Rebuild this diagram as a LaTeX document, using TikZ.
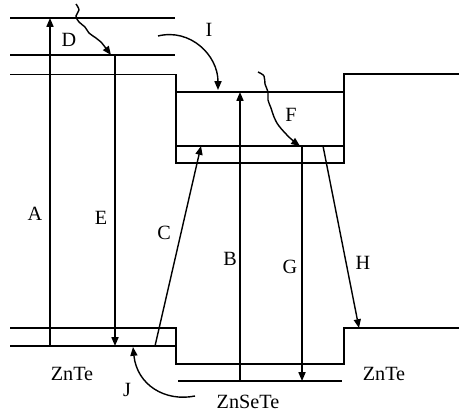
\documentclass[tikz,border=0pt]{standalone}
\usepackage{fontspec}
\setmainfont{Liberation Serif}
\usetikzlibrary{arrows.meta}
\definecolor{Ink}{HTML}{000000}
\tikzset{
  level/.style={draw=Ink,line width=0.8pt},
  trans/.style={draw=Ink,line width=0.8pt,-{Triangle[length=5pt,width=4pt]}},
  lbl/.style={font=\fontsize{11.5}{13}\selectfont,text=Ink,inner sep=0pt}
}

\begin{document}
\begin{tikzpicture}[x=0.02cm,y=-0.02cm]
    \useasboundingbox (0,0) rectangle (459,414);

    % band profiles and levels
    \draw[level] (10,18) -- (175,18);
    \draw[level] (10,55) -- (175,55);
    \draw[level,line width=0.5pt] (10,74) -- (176,74);
    \draw[level] (176,74) -- (176,163) -- (344,163) -- (344,74) -- (459,74);
    \draw[level] (176,92) -- (344,92);
    \draw[level] (176,146) -- (344,146);
    \draw[level] (10,328) -- (176,328) -- (176,364) -- (344,364) -- (344,328) -- (459,328);
    \draw[level] (10,346) -- (176,346);
    \draw[level] (178,381) -- (342,381);

    % transition end points
    \coordinate (aLow) at (50,346);   \coordinate (aHigh) at (50,18);
    \coordinate (eHigh) at (115,55);  \coordinate (eLow) at (115,346);
    \coordinate (bLow) at (240,381);  \coordinate (bHigh) at (240,92);
    \coordinate (gHigh) at (302,146); \coordinate (gLow) at (302,381);
    \coordinate (cLow) at (155,346);  \coordinate (cHigh) at (201,146);
    \coordinate (hHigh) at (323,146); \coordinate (hLow) at (359,328);
    \coordinate (iStart) at (158,36); \coordinate (iEnd) at (218,90);
    \coordinate (jStart) at (195,396);\coordinate (jEnd) at (133,347);

    \draw[trans] (aLow) -- (aHigh);
    \draw[trans] (eHigh) -- (eLow);
    \draw[trans] (bLow) -- (bHigh);
    \draw[trans] (gHigh) -- (gLow);
    \draw[trans] (cLow) -- (cHigh);
    \draw[trans] (hHigh) -- (hLow);
    \draw[trans] (iStart) .. controls (190,28) and (218,55) .. (iEnd);
    \draw[trans] (jStart) .. controls (165,402) and (137,385) .. (jEnd);

    % relaxation paths
    \draw[trans] plot[smooth,tension=0.6] coordinates {(76,4) (79,10) (76,16) (79,22) (85,27) (89,33) (96,38) (101,42) (111,55)};
    \draw[trans] plot[smooth,tension=0.6] coordinates {(258,72) (264,76) (265,84) (268,92) (268,100) (271,108) (274,117) (279,126) (290,138) (300,146)};

    % labels
    \node[lbl] (labA) at (35,214) {A};
    \node[lbl] (labE) at (101,218) {E};
    \node[lbl] (labC) at (164,233) {C};
    \node[lbl] (labB) at (230,259) {B};
    \node[lbl] (labG) at (290,267) {G};
    \node[lbl] (labH) at (363,263) {H};
    \node[lbl] (labD) at (69,40) {D};
    \node[lbl] (labF) at (291,115) {F};
    \node[lbl] (labI) at (209,30) {I};
    \node[lbl] (labJ) at (127,390) {J};
    \node[lbl] (left) at (72,374) {ZnTe};
    \node[lbl] (right) at (384,374) {ZnTe};
    \node[lbl] (well) at (248,402) {ZnSeTe};
  \end{tikzpicture}
\end{document}
